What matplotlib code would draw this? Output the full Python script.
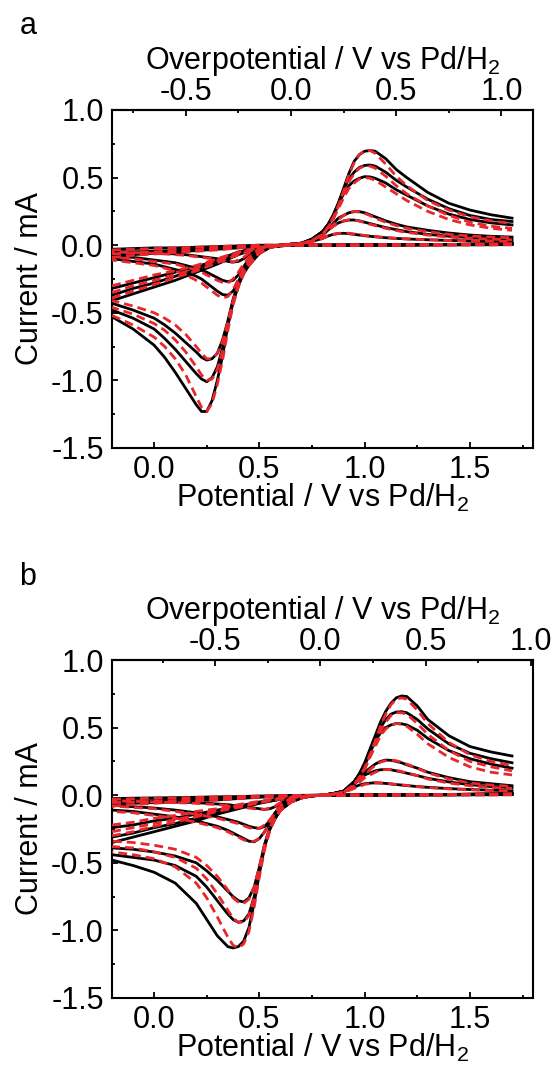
import matplotlib
matplotlib.use("Agg")
import matplotlib.pyplot as plt
from matplotlib.ticker import MultipleLocator, FormatStrFormatter

plt.rcParams['font.family'] = ['Liberation Sans', 'DejaVu Sans']
plt.rcParams['mathtext.fontset'] = 'custom'
plt.rcParams['mathtext.rm'] = 'Liberation Sans'
plt.rcParams['mathtext.it'] = 'Liberation Sans:italic'

# ---------------- panel a ----------------
a_E0 = 0.65
a_E_cath = [0.65, 0.6, 0.55, 0.5, 0.45, 0.425, 0.4, 0.375, 0.35, 0.325, 0.3, 0.275,
            0.25, 0.225, 0.2, 0.15, 0.1, 0.05, 0.0, -0.1, -0.2]
a_exp_cath = [
    [0.0, -0.005, -0.015, -0.06, -0.15, -0.21, -0.3, -0.42, -0.6, -0.82, -1.0, -1.15, -1.23, -1.23, -1.18, -1.06, -0.94, -0.83, -0.74, -0.62, -0.53],
    [0.0, -0.005, -0.015, -0.06, -0.14, -0.2, -0.29, -0.41, -0.58, -0.76, -0.9, -0.98, -1.01, -0.99, -0.95, -0.86, -0.77, -0.69, -0.62, -0.54, -0.48],
    [0.0, -0.005, -0.015, -0.06, -0.13, -0.19, -0.28, -0.4, -0.56, -0.7, -0.8, -0.84, -0.85, -0.83, -0.79, -0.72, -0.65, -0.59, -0.54, -0.48, -0.43],
    [0.0, -0.003, -0.012, -0.045, -0.12, -0.19, -0.27, -0.34, -0.37, -0.365, -0.34, -0.31, -0.28, -0.25, -0.23, -0.2, -0.18, -0.16, -0.14, -0.12, -0.1],
    [0.0, -0.003, -0.01, -0.04, -0.1, -0.16, -0.22, -0.26, -0.27, -0.26, -0.24, -0.22, -0.2, -0.185, -0.17, -0.15, -0.13, -0.12, -0.11, -0.09, -0.08],
    [0.0, -0.002, -0.008, -0.03, -0.07, -0.1, -0.12, -0.125, -0.12, -0.11, -0.1, -0.095, -0.09, -0.085, -0.08, -0.07, -0.065, -0.06, -0.055, -0.05, -0.045],
]
a_sim_cath = [
    [0.0, -0.005, -0.015, -0.06, -0.15, -0.21, -0.31, -0.44, -0.63, -0.85, -1.03, -1.17, -1.23, -1.2, -1.12, -0.96, -0.84, -0.75, -0.68, -0.59, -0.52],
    [0.0, -0.005, -0.015, -0.06, -0.14, -0.2, -0.3, -0.43, -0.6, -0.78, -0.92, -0.99, -1.0, -0.96, -0.9, -0.79, -0.7, -0.63, -0.58, -0.51, -0.46],
    [0.0, -0.005, -0.015, -0.06, -0.13, -0.19, -0.29, -0.41, -0.57, -0.71, -0.8, -0.84, -0.84, -0.8, -0.75, -0.66, -0.59, -0.54, -0.5, -0.45, -0.41],
    [0.0, -0.003, -0.012, -0.045, -0.11, -0.17, -0.25, -0.33, -0.38, -0.39, -0.37, -0.34, -0.31, -0.28, -0.26, -0.22, -0.19, -0.17, -0.15, -0.13, -0.11],
    [0.0, -0.003, -0.01, -0.04, -0.09, -0.14, -0.2, -0.25, -0.28, -0.275, -0.26, -0.24, -0.22, -0.2, -0.185, -0.16, -0.14, -0.13, -0.12, -0.1, -0.09],
    [0.0, -0.002, -0.008, -0.03, -0.06, -0.09, -0.11, -0.125, -0.125, -0.12, -0.11, -0.1, -0.095, -0.09, -0.085, -0.075, -0.07, -0.065, -0.06, -0.055, -0.05],
]
a_E_anod = [-0.2, -0.1, 0.0, 0.1, 0.2, 0.3, 0.4, 0.5, 0.6, 0.7, 0.75, 0.8, 0.825, 0.85,
            0.875, 0.9, 0.925, 0.95, 0.975, 1.0, 1.025, 1.05, 1.1, 1.15, 1.2, 1.3,
            1.4, 1.5, 1.6, 1.7]
a_exp_anod = [
    [-0.41, -0.36, -0.31, -0.26, -0.2, -0.14, -0.07, -0.02, 0.0, 0.015, 0.045, 0.1, 0.15, 0.22, 0.31, 0.42, 0.53, 0.62, 0.67, 0.695, 0.70, 0.695, 0.64, 0.56, 0.5, 0.39, 0.31, 0.26, 0.225, 0.2],
    [-0.37, -0.32, -0.28, -0.23, -0.18, -0.12, -0.06, -0.02, 0.0, 0.015, 0.045, 0.1, 0.15, 0.22, 0.31, 0.41, 0.49, 0.54, 0.575, 0.59, 0.593, 0.585, 0.54, 0.48, 0.43, 0.34, 0.27, 0.22, 0.19, 0.175],
    [-0.32, -0.28, -0.24, -0.2, -0.16, -0.11, -0.05, -0.015, 0.0, 0.015, 0.045, 0.1, 0.15, 0.21, 0.3, 0.38, 0.44, 0.475, 0.495, 0.507, 0.505, 0.495, 0.46, 0.41, 0.37, 0.29, 0.23, 0.19, 0.165, 0.15],
    [-0.08, -0.07, -0.06, -0.05, -0.04, -0.03, -0.02, -0.01, 0.0, 0.012, 0.035, 0.08, 0.12, 0.16, 0.2, 0.22, 0.24, 0.248, 0.248, 0.24, 0.225, 0.21, 0.18, 0.155, 0.135, 0.11, 0.09, 0.075, 0.066, 0.06],
    [-0.06, -0.05, -0.045, -0.04, -0.03, -0.025, -0.015, -0.005, 0.0, 0.012, 0.035, 0.075, 0.11, 0.14, 0.165, 0.178, 0.186, 0.186, 0.18, 0.17, 0.16, 0.15, 0.13, 0.115, 0.1, 0.08, 0.066, 0.056, 0.05, 0.045],
    [-0.03, -0.025, -0.02, -0.02, -0.015, -0.01, -0.005, 0.0, 0.0, 0.01, 0.028, 0.05, 0.067, 0.08, 0.086, 0.088, 0.085, 0.08, 0.075, 0.07, 0.066, 0.062, 0.055, 0.05, 0.046, 0.04, 0.035, 0.032, 0.03, 0.028],
]
a_sim_anod = [
    [-0.39, -0.34, -0.29, -0.24, -0.19, -0.13, -0.07, -0.02, 0.0, 0.012, 0.035, 0.08, 0.13, 0.2, 0.29, 0.4, 0.52, 0.61, 0.67, 0.7, 0.7, 0.68, 0.6, 0.51, 0.44, 0.33, 0.26, 0.21, 0.18, 0.16],
    [-0.35, -0.3, -0.26, -0.22, -0.17, -0.11, -0.06, -0.02, 0.0, 0.012, 0.035, 0.08, 0.13, 0.2, 0.29, 0.38, 0.47, 0.53, 0.57, 0.585, 0.585, 0.57, 0.51, 0.44, 0.38, 0.29, 0.22, 0.17, 0.14, 0.125],
    [-0.3, -0.26, -0.22, -0.19, -0.15, -0.1, -0.05, -0.015, 0.0, 0.012, 0.035, 0.08, 0.13, 0.19, 0.27, 0.35, 0.42, 0.46, 0.49, 0.5, 0.495, 0.48, 0.43, 0.38, 0.33, 0.25, 0.19, 0.15, 0.125, 0.11],
    [-0.09, -0.075, -0.065, -0.055, -0.045, -0.035, -0.02, -0.01, 0.0, 0.01, 0.03, 0.07, 0.11, 0.15, 0.19, 0.22, 0.24, 0.25, 0.245, 0.235, 0.22, 0.2, 0.17, 0.145, 0.125, 0.1, 0.08, 0.068, 0.06, 0.055],
    [-0.065, -0.055, -0.05, -0.04, -0.035, -0.025, -0.015, -0.005, 0.0, 0.01, 0.03, 0.07, 0.105, 0.14, 0.165, 0.18, 0.188, 0.185, 0.178, 0.168, 0.155, 0.145, 0.125, 0.108, 0.095, 0.075, 0.06, 0.05, 0.045, 0.04],
    [-0.035, -0.03, -0.025, -0.02, -0.015, -0.01, -0.005, 0.0, 0.0, 0.01, 0.025, 0.05, 0.067, 0.08, 0.087, 0.09, 0.088, 0.083, 0.078, 0.072, 0.068, 0.064, 0.057, 0.051, 0.047, 0.04, 0.035, 0.032, 0.03, 0.028],
]
a_E_back = [1.7, 1.6, 1.4, 1.2, 1.0, 0.8, 0.65]
a_exp_back = [
    [0.015, 0.01, 0.006, 0.004, 0.002, 0.0, 0.0],
    [0.013, 0.009, 0.005, 0.003, 0.002, 0.0, 0.0],
    [0.012, 0.008, 0.005, 0.003, 0.001, 0.0, 0.0],
    [0.008, 0.006, 0.004, 0.002, 0.001, 0.0, 0.0],
    [0.006, 0.005, 0.003, 0.002, 0.001, 0.0, 0.0],
    [0.004, 0.003, 0.002, 0.001, 0.0, 0.0, 0.0],
]
a_sim_back = [
    [0.01, 0.008, 0.005, 0.003, 0.001, 0.0, 0.0],
    [0.009, 0.007, 0.004, 0.002, 0.001, 0.0, 0.0],
    [0.008, 0.006, 0.004, 0.002, 0.001, 0.0, 0.0],
    [0.006, 0.005, 0.003, 0.002, 0.001, 0.0, 0.0],
    [0.005, 0.004, 0.003, 0.001, 0.0, 0.0, 0.0],
    [0.003, 0.002, 0.002, 0.001, 0.0, 0.0, 0.0],
]

# ---------------- panel b ----------------
b_E0 = 0.79
b_E_cath = [0.8, 0.75, 0.7, 0.65, 0.6, 0.575, 0.55, 0.525, 0.5, 0.475, 0.45, 0.425,
            0.4, 0.375, 0.35, 0.3, 0.25, 0.2, 0.1, 0.0, -0.1, -0.2]
b_exp_cath = [
    [0.0, -0.005, -0.02, -0.05, -0.11, -0.17, -0.25, -0.38, -0.58, -0.8, -0.98, -1.08, -1.12, -1.13, -1.12, -1.04, -0.92, -0.8, -0.65, -0.57, -0.52, -0.48],
    [0.0, -0.005, -0.02, -0.05, -0.11, -0.17, -0.25, -0.37, -0.56, -0.75, -0.88, -0.93, -0.94, -0.92, -0.88, -0.78, -0.68, -0.6, -0.52, -0.48, -0.46, -0.44],
    [0.0, -0.005, -0.02, -0.05, -0.11, -0.17, -0.24, -0.36, -0.53, -0.68, -0.76, -0.79, -0.78, -0.75, -0.71, -0.63, -0.56, -0.5, -0.45, -0.42, -0.4, -0.39],
    [0.0, -0.003, -0.01, -0.03, -0.08, -0.13, -0.2, -0.27, -0.32, -0.345, -0.34, -0.32, -0.3, -0.28, -0.26, -0.23, -0.21, -0.19, -0.16, -0.14, -0.12, -0.11],
    [0.0, -0.003, -0.01, -0.03, -0.08, -0.13, -0.19, -0.23, -0.245, -0.24, -0.23, -0.215, -0.2, -0.19, -0.18, -0.16, -0.145, -0.13, -0.11, -0.095, -0.085, -0.075],
    [0.0, -0.002, -0.008, -0.025, -0.06, -0.085, -0.1, -0.105, -0.1, -0.095, -0.09, -0.085, -0.08, -0.075, -0.07, -0.065, -0.06, -0.055, -0.05, -0.045, -0.04, -0.035],
]
b_sim_cath = [
    [0.0, -0.005, -0.02, -0.05, -0.11, -0.17, -0.26, -0.4, -0.6, -0.83, -1.01, -1.1, -1.13, -1.11, -1.05, -0.9, -0.76, -0.65, -0.53, -0.47, -0.44, -0.42],
    [0.0, -0.005, -0.02, -0.05, -0.11, -0.17, -0.25, -0.38, -0.57, -0.76, -0.89, -0.94, -0.94, -0.91, -0.85, -0.73, -0.62, -0.54, -0.46, -0.42, -0.39, -0.38],
    [0.0, -0.005, -0.02, -0.05, -0.11, -0.17, -0.24, -0.36, -0.53, -0.68, -0.77, -0.8, -0.79, -0.76, -0.7, -0.6, -0.52, -0.46, -0.4, -0.37, -0.35, -0.34],
    [0.0, -0.003, -0.01, -0.03, -0.08, -0.13, -0.2, -0.27, -0.32, -0.34, -0.345, -0.33, -0.31, -0.29, -0.27, -0.24, -0.22, -0.2, -0.17, -0.15, -0.13, -0.12],
    [0.0, -0.003, -0.01, -0.03, -0.08, -0.13, -0.18, -0.22, -0.245, -0.25, -0.24, -0.225, -0.21, -0.2, -0.19, -0.17, -0.155, -0.14, -0.12, -0.1, -0.09, -0.08],
    [0.0, -0.002, -0.008, -0.025, -0.055, -0.08, -0.095, -0.105, -0.105, -0.1, -0.095, -0.09, -0.085, -0.08, -0.075, -0.07, -0.065, -0.06, -0.055, -0.05, -0.045, -0.04],
]
b_E_anod = [-0.2, -0.1, 0.0, 0.1, 0.2, 0.3, 0.4, 0.5, 0.6, 0.7, 0.8, 0.85, 0.9, 0.95,
            0.975, 1.0, 1.025, 1.05, 1.075, 1.1, 1.125, 1.15, 1.175, 1.2, 1.25, 1.3,
            1.4, 1.5, 1.6, 1.7]
b_exp_anod = [
    [-0.35, -0.31, -0.27, -0.23, -0.19, -0.14, -0.1, -0.06, -0.03, -0.01, 0.0, 0.012, 0.03, 0.1, 0.16, 0.24, 0.34, 0.44, 0.54, 0.62, 0.68, 0.72, 0.734, 0.73, 0.66, 0.56, 0.44, 0.36, 0.32, 0.29],
    [-0.31, -0.28, -0.24, -0.21, -0.17, -0.13, -0.09, -0.055, -0.03, -0.01, 0.0, 0.012, 0.03, 0.1, 0.155, 0.23, 0.33, 0.42, 0.5, 0.56, 0.6, 0.615, 0.618, 0.61, 0.56, 0.49, 0.38, 0.31, 0.27, 0.24],
    [-0.24, -0.22, -0.19, -0.17, -0.14, -0.11, -0.08, -0.05, -0.025, -0.01, 0.0, 0.012, 0.03, 0.1, 0.15, 0.22, 0.31, 0.4, 0.46, 0.5, 0.52, 0.53, 0.528, 0.52, 0.48, 0.42, 0.33, 0.27, 0.23, 0.2],
    [-0.07, -0.06, -0.055, -0.05, -0.04, -0.035, -0.025, -0.015, -0.008, -0.003, 0.0, 0.012, 0.03, 0.09, 0.13, 0.17, 0.2, 0.23, 0.25, 0.26, 0.258, 0.25, 0.24, 0.225, 0.2, 0.17, 0.13, 0.1, 0.085, 0.07],
    [-0.05, -0.045, -0.04, -0.035, -0.03, -0.025, -0.02, -0.012, -0.006, -0.002, 0.0, 0.012, 0.03, 0.08, 0.115, 0.15, 0.165, 0.18, 0.188, 0.19, 0.188, 0.18, 0.172, 0.163, 0.145, 0.125, 0.098, 0.078, 0.064, 0.055],
    [-0.025, -0.022, -0.02, -0.018, -0.015, -0.012, -0.01, -0.006, -0.003, -0.001, 0.0, 0.01, 0.025, 0.06, 0.075, 0.085, 0.089, 0.092, 0.09, 0.087, 0.083, 0.079, 0.075, 0.071, 0.064, 0.058, 0.049, 0.042, 0.037, 0.033],
]
b_sim_anod = [
    [-0.3, -0.27, -0.23, -0.2, -0.16, -0.12, -0.09, -0.055, -0.03, -0.01, 0.0, 0.008, 0.02, 0.08, 0.13, 0.2, 0.3, 0.4, 0.51, 0.6, 0.67, 0.71, 0.72, 0.71, 0.63, 0.53, 0.39, 0.3, 0.25, 0.22],
    [-0.27, -0.24, -0.21, -0.18, -0.15, -0.11, -0.08, -0.05, -0.025, -0.01, 0.0, 0.008, 0.02, 0.08, 0.13, 0.2, 0.29, 0.38, 0.47, 0.54, 0.59, 0.61, 0.61, 0.6, 0.53, 0.45, 0.33, 0.25, 0.21, 0.18],
    [-0.22, -0.2, -0.17, -0.15, -0.12, -0.1, -0.07, -0.045, -0.02, -0.008, 0.0, 0.008, 0.02, 0.08, 0.13, 0.19, 0.28, 0.36, 0.44, 0.49, 0.52, 0.53, 0.525, 0.51, 0.45, 0.38, 0.28, 0.21, 0.17, 0.15],
    [-0.08, -0.07, -0.06, -0.05, -0.045, -0.035, -0.025, -0.015, -0.008, -0.003, 0.0, 0.008, 0.02, 0.07, 0.11, 0.15, 0.19, 0.22, 0.245, 0.255, 0.26, 0.255, 0.245, 0.23, 0.2, 0.165, 0.12, 0.09, 0.075, 0.065],
    [-0.055, -0.05, -0.045, -0.04, -0.035, -0.028, -0.02, -0.012, -0.006, -0.002, 0.0, 0.008, 0.02, 0.06, 0.095, 0.13, 0.15, 0.17, 0.185, 0.19, 0.19, 0.185, 0.175, 0.165, 0.145, 0.12, 0.09, 0.07, 0.058, 0.05],
    [-0.03, -0.026, -0.022, -0.02, -0.017, -0.014, -0.01, -0.006, -0.003, -0.001, 0.0, 0.008, 0.02, 0.05, 0.065, 0.08, 0.086, 0.09, 0.09, 0.088, 0.084, 0.08, 0.076, 0.072, 0.064, 0.057, 0.047, 0.04, 0.035, 0.032],
]
b_E_back = [1.7, 1.6, 1.4, 1.2, 1.0, 0.8]
b_exp_back = [
    [0.015, 0.01, 0.006, 0.004, 0.002, 0.0],
    [0.013, 0.009, 0.005, 0.003, 0.002, 0.0],
    [0.012, 0.008, 0.005, 0.003, 0.001, 0.0],
    [0.008, 0.006, 0.004, 0.002, 0.001, 0.0],
    [0.006, 0.005, 0.003, 0.002, 0.001, 0.0],
    [0.004, 0.003, 0.002, 0.001, 0.0, 0.0],
]
b_sim_back = [
    [0.01, 0.008, 0.005, 0.003, 0.001, 0.0],
    [0.009, 0.007, 0.004, 0.002, 0.001, 0.0],
    [0.008, 0.006, 0.004, 0.002, 0.001, 0.0],
    [0.006, 0.005, 0.003, 0.002, 0.001, 0.0],
    [0.005, 0.004, 0.003, 0.001, 0.0, 0.0],
    [0.003, 0.002, 0.002, 0.001, 0.0, 0.0],
]

RED = '#e8262b'
FS = 22


def draw_panel(ax, E_cath, E_anod, E_back, exp_cath, exp_anod, exp_back,
               sim_cath, sim_anod, sim_back, E0):
    # experiment: black solid
    for i in range(len(exp_cath)):
        ax.plot(E_cath, exp_cath[i], color='black', lw=2.0, zorder=2)
        ax.plot(E_anod, exp_anod[i], color='black', lw=2.0, zorder=2)
        ax.plot(E_back, exp_back[i], color='black', lw=2.0, zorder=2)
    # simulation: red dashed
    for i in range(len(sim_cath)):
        for xs, ys in [(E_cath, sim_cath[i]), (E_anod, sim_anod[i]), (E_back, sim_back[i])]:
            ax.plot(xs, ys, color=RED, lw=2.0, dashes=(3.2, 1.8), zorder=3)

    ax.set_xlim(-0.2, 1.8)
    ax.set_ylim(-1.5, 1.0)
    ax.xaxis.set_major_locator(MultipleLocator(0.5))
    ax.xaxis.set_minor_locator(MultipleLocator(0.25))
    ax.yaxis.set_major_locator(MultipleLocator(0.5))
    ax.yaxis.set_minor_locator(MultipleLocator(0.25))
    ax.xaxis.set_major_formatter(FormatStrFormatter('%.1f'))
    ax.yaxis.set_major_formatter(FormatStrFormatter('%.1f'))
    ax.tick_params(which='both', direction='in', top=False, right=False,
                   labelsize=FS, width=1.3)
    ax.tick_params(axis='x', which='major', length=4.5, pad=5)
    ax.tick_params(axis='y', which='major', length=4.5, pad=6)
    ax.tick_params(which='minor', length=2.5)
    for s in ax.spines.values():
        s.set_linewidth(1.5)
    ax.set_xlabel('Potential / V vs Pd/H$_2$', fontsize=FS, labelpad=-2)
    ax.set_ylabel('Current / mA', fontsize=FS, labelpad=4)

    sec = ax.secondary_xaxis('top', functions=(lambda x: x - E0, lambda x: x + E0))
    sec.xaxis.set_major_locator(MultipleLocator(0.5))
    sec.xaxis.set_minor_locator(MultipleLocator(0.25))
    sec.xaxis.set_major_formatter(FormatStrFormatter('%.1f'))
    sec.tick_params(which='both', direction='in', labelsize=FS, width=1.3)
    sec.tick_params(which='major', length=4.5, pad=2)
    sec.tick_params(which='minor', length=2.5)
    sec.spines['top'].set_linewidth(1.5)
    sec.set_xlabel('Overpotential / V vs Pd/H$_2$', fontsize=FS, labelpad=6)


fig = plt.figure(figsize=(5.52, 10.73), dpi=100)
ax_a = fig.add_axes([0.203, 0.5825, 0.7627, 0.315])
ax_b = fig.add_axes([0.203, 0.0699, 0.7627, 0.315])

draw_panel(ax_a, a_E_cath, a_E_anod, a_E_back, a_exp_cath, a_exp_anod, a_exp_back,
           a_sim_cath, a_sim_anod, a_sim_back, a_E0)
draw_panel(ax_b, b_E_cath, b_E_anod, b_E_back, b_exp_cath, b_exp_anod, b_exp_back,
           b_sim_cath, b_sim_anod, b_sim_back, b_E0)

fig.text(0.035, 0.976, 'a', fontsize=FS, va='center')
fig.text(0.035, 0.462, 'b', fontsize=FS, va='center')

fig.savefig('out.png', dpi=100)
